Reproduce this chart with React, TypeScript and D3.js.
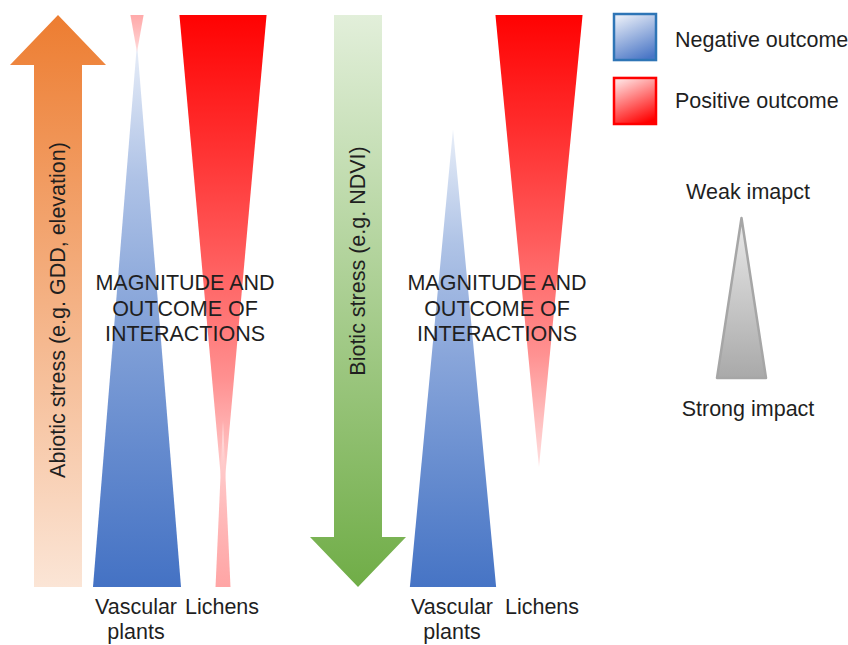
import { useMemo } from 'react';
import * as d3 from 'd3';

// stress gradients drawn as big arrows, one per panel
const panels = ['Abiotic stress (e.g. GDD, elevation)', 'Biotic stress (e.g. NDVI)'];
const arrowDirections = ['up', 'down'];
const taxa = ['Vascular plants', 'Lichens'];
const outcomes = ['Negative outcome', 'Positive outcome'];
const centreLabel = ['MAGNITUDE AND', 'OUTCOME OF', 'INTERACTIONS'];
const impactLabels = ['Weak imapct', 'Strong impact'];

// wedges: stress level (0 = bottom of arrow, 1 = top) where the wedge is widest,
// stress level where it vanishes, and relative magnitude at the wide end
const wedgePanel = [0, 0, 0, 0, 1, 1];
const wedgeTaxon = ['Vascular plants', 'Vascular plants', 'Lichens', 'Lichens', 'Vascular plants', 'Lichens'];
const wedgeOutcome = ['Negative outcome', 'Positive outcome', 'Positive outcome', 'Positive outcome', 'Negative outcome', 'Positive outcome'];
const wedgeWideLevel = [0, 1, 1, 0, 0, 1];
const wedgeApexLevel = [0.95, 0.935, 0.15, 0.29, 0.8, 0.21];
const wedgeMagnitude = [1, 0.15, 0.99, 0.17, 0.98, 0.99];

const width = 848;
const height = 645;
const font = '"Liberation Sans", Arial, sans-serif';
const ink = '#1f1f1f';
const fs = 21.5;

export default function App() {
  const y = d3.scaleLinear().domain([0, 1]).range([587, 15]);
  const w = d3.scaleLinear().domain([0, 1]).range([0, 88]);
  const panelX = d3.scaleOrdinal<number, number>().domain([0, 1]).range([10, 310]);
  const groupOffset = [84, 100];
  const col = d3.scaleBand().domain(taxa).range([0, 172]).paddingInner(0);

  const colour: Record<string, (t: number) => string> = {
    'Negative outcome': d3.interpolateRgb('#E8EEF8', '#4472C4'),
    'Positive outcome': d3.interpolateRgb('#FFE0E0', '#FF0000'),
  };
  const stops = [0, 0.25, 0.5, 0.75, 1];

  const line = d3.line<[number, number]>().x(d => d[0]).y(d => d[1]);

  const arrowW = 96;
  const shaftW = 48;
  const headLen = 50;

  const arrows = useMemo(() => panels.map((label, i) => {
    const left = panelX(i);
    const cx = left + arrowW / 2;
    const up = arrowDirections[i] === 'up';
    const tipY = up ? y(1) : y(0);
    const endY = up ? y(0) : y(1);
    const baseY = up ? tipY + headLen : tipY - headLen;
    const pts: [number, number][] = [
      [cx, tipY],
      [cx + arrowW / 2, baseY],
      [cx + shaftW / 2, baseY],
      [cx + shaftW / 2, endY],
      [cx - shaftW / 2, endY],
      [cx - shaftW / 2, baseY],
      [cx - arrowW / 2, baseY],
    ];
    return { label, cx, up, d: line(pts) + 'Z' };
  }), []);

  const wedges = wedgePanel.map((p, i) => {
    const cx = panelX(p) + groupOffset[p] + (col(wedgeTaxon[i]) ?? 0) + col.bandwidth() / 2;
    const half = w(wedgeMagnitude[i]) / 2;
    const wideY = y(wedgeWideLevel[i]);
    const apexY = y(wedgeApexLevel[i]);
    const pts: [number, number][] = [[cx - half, wideY], [cx + half, wideY], [cx, apexY]];
    const c = colour[wedgeOutcome[i]];
    const cols = stops.map(o => c(Math.pow(wedgeMagnitude[i] * (1 - o), 0.75)));
    return { id: `wedge${i}`, d: line(pts) + 'Z', wideY, apexY, cols };
  });

  const impactY = d3.scaleLinear().domain([0, 1]).range([378, 218]);
  const impactX = 741.5;
  const impactPts: [number, number][] = [[impactX - 24.5, impactY(0)], [impactX + 24.5, impactY(0)], [impactX, impactY(1)]];

  const legendY = d3.scaleBand().domain(outcomes).range([14, 124]).paddingInner(0.28);

  return (
    <svg width={width} height={height} style={{ position: 'absolute', left: 0, top: 0, background: '#fff' }} fontFamily={font}>
      <defs>
        <linearGradient id="gradUp" x1="0" y1="0" x2="0" y2="1">
          <stop offset="0" stopColor="#ED7D31" />
          <stop offset="1" stopColor="#FBE5D6" />
        </linearGradient>
        <linearGradient id="gradDown" x1="0" y1="0" x2="0" y2="1">
          <stop offset="0" stopColor="#E2EFDA" />
          <stop offset="1" stopColor="#70AD47" />
        </linearGradient>
        {wedges.map(wd => (
          <linearGradient key={wd.id} id={wd.id} gradientUnits="userSpaceOnUse" x1="0" y1={wd.wideY} x2="0" y2={wd.apexY}>
            {stops.map((o, k) => <stop key={k} offset={o} stopColor={wd.cols[k]} />)}
          </linearGradient>
        ))}
        <linearGradient id="legNeg" x1="0.3" y1="0" x2="0.7" y2="1">
          <stop offset="0" stopColor="#E4EAF6" />
          <stop offset="1" stopColor="#4A76C6" />
        </linearGradient>
        <linearGradient id="legPos" x1="0.3" y1="0" x2="0.7" y2="1">
          <stop offset="0" stopColor="#FFDADA" />
          <stop offset="1" stopColor="#FF0000" />
        </linearGradient>
        <linearGradient id="gradImpact" x1="0" y1="0" x2="0" y2="1">
          <stop offset="0" stopColor="#EAEAEA" />
          <stop offset="1" stopColor="#A9A9A9" />
        </linearGradient>
      </defs>

      {arrows.map(a => (
        <g key={a.label}>
          <path d={a.d} fill={a.up ? 'url(#gradUp)' : 'url(#gradDown)'} />
        </g>
      ))}

      {wedges.map(wd => (
        <path key={wd.id} d={wd.d} fill={`url(#${wd.id})`} />
      ))}

      {arrows.map((a, i) => (
        <text
          key={'t' + i}
          transform={`translate(${a.cx + 7},${i === 0 ? 310 : 261}) rotate(-90)`}
          textAnchor="middle"
          fontSize={fs}
          fill={ink}
        >
          {a.label}
        </text>
      ))}

      {panels.map((p, i) => {
        const cx = panelX(i) + groupOffset[i] + col.bandwidth();
        return (
          <text key={'c' + i} textAnchor="middle" fontSize={fs} fill={ink}>
            {centreLabel.map((l, k) => (
              <tspan key={l} x={cx + (i === 0 ? 5 : 1)} y={290 + k * 25.5}>{l}</tspan>
            ))}
          </text>
        );
      })}

      {panels.map((p, i) =>
        taxa.map(t => {
          const cx = panelX(i) + groupOffset[i] + (col(t) ?? 0) + col.bandwidth() / 2;
          const words = t === 'Vascular plants' ? ['Vascular', 'plants'] : [t];
          return (
            <text key={p + t} textAnchor="middle" fontSize={fs} fill={ink}>
              {words.map((wd, k) => (
                <tspan key={wd} x={cx + (i === 1 && t === 'Lichens' ? 3 : -1)} y={614 + k * 25}>{wd}</tspan>
              ))}
            </text>
          );
        })
      )}

      {outcomes.map(o => {
        const top = legendY(o) ?? 0;
        const neg = o === 'Negative outcome';
        return (
          <g key={o}>
            <rect
              x={614}
              y={top}
              width={42}
              height={legendY.bandwidth()}
              fill={neg ? 'url(#legNeg)' : 'url(#legPos)'}
              stroke={neg ? '#2E75B6' : '#FF0000'}
              strokeWidth={2.5}
            />
            <text x={675} y={top + (neg ? 33 : 30)} fontSize={fs} fill={ink}>{o}</text>
          </g>
        );
      })}

      <path d={line(impactPts) + 'Z'} fill="url(#gradImpact)" stroke="#A6A6A6" strokeWidth={2.5} strokeLinejoin="round" />
      <text x={748} y={impactY(1) - 19} textAnchor="middle" fontSize={fs} fill={ink}>{impactLabels[0]}</text>
      <text x={748} y={impactY(0) + 38} textAnchor="middle" fontSize={fs} fill={ink}>{impactLabels[1]}</text>
    </svg>
  );
}
